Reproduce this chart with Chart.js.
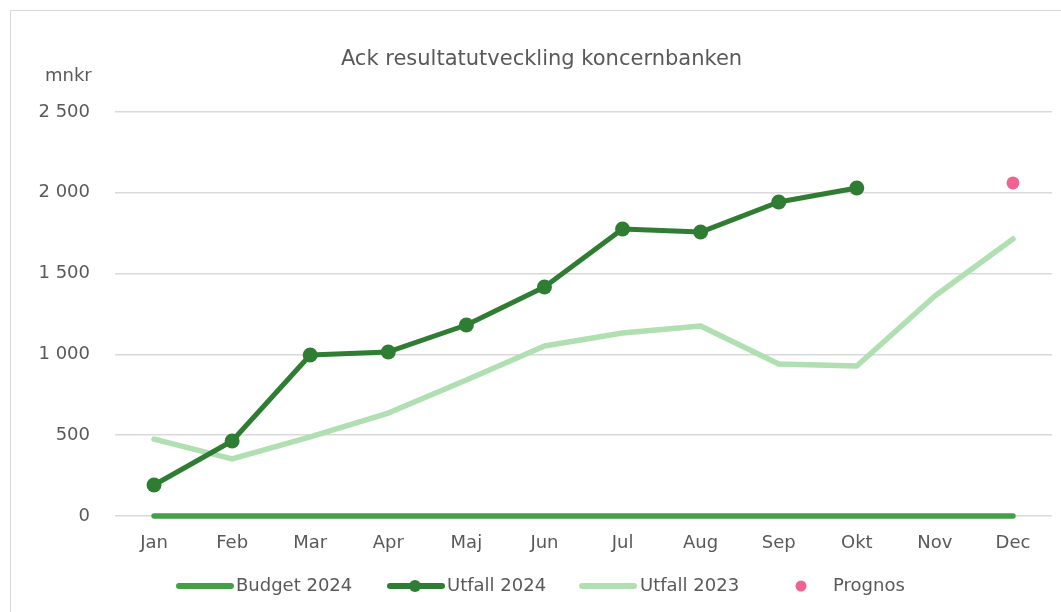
<!DOCTYPE html>
<html>
<head>
<meta charset="utf-8">
<script src="https://cdn.jsdelivr.net/npm/chart.js@4/dist/chart.umd.min.js"></script>
<style>
    html, body { margin: 0; padding: 0; background: #fff; overflow: hidden; }
    body { width: 1061px; height: 612px; position: relative; font-family: 'DejaVu Sans', sans-serif; color: #595959; }
    .frame { position: absolute; left: 10px; top: 10px; width: 1200px; height: 800px; border: 1.5px solid #d9d9d9; }
    .title { position: absolute; left: 0; width: 1083px; top: 46px; text-align: center; font-size: 21px; }
    .unit { position: absolute; left: 45px; top: 64px; font-size: 18px; }
    #chartWrap { position: absolute; left: 0; top: 0; width: 1061px; height: 612px; }
    .legend { position: absolute; top: 574px; font-size: 18px; white-space: nowrap; }
    .legend svg { position: absolute; top: 0; }
</style>
</head>
<body>
<div class="frame"></div>
<div id="chartWrap"><canvas id="chart"></canvas></div>
<div class="title">Ack resultatutveckling koncernbanken</div>
<div class="unit">mnkr</div>

<div class="legend" style="left:176px">
    <svg width="60" height="24" style="left:0"><line x1="3" y1="12" x2="55" y2="12" stroke="#43a047" stroke-width="6" stroke-linecap="round"/></svg>
    <span style="position:absolute;left:60px">Budget 2024</span>
</div>
<div class="legend" style="left:387px">
    <svg width="60" height="24" style="left:0"><line x1="3" y1="12" x2="55" y2="12" stroke="#2e7d32" stroke-width="6" stroke-linecap="round"/><circle cx="28" cy="12" r="6" fill="#2e7d32"/></svg>
    <span style="position:absolute;left:60px">Utfall 2024</span>
</div>
<div class="legend" style="left:579px">
    <svg width="60" height="24" style="left:0"><line x1="3" y1="12" x2="55" y2="12" stroke="#b0dfb1" stroke-width="6" stroke-linecap="round"/></svg>
    <span style="position:absolute;left:61px">Utfall 2023</span>
</div>
<div class="legend" style="left:790px">
    <svg width="24" height="24" style="left:0"><circle cx="11" cy="12" r="5.5" fill="#f06292"/></svg>
    <span style="position:absolute;left:43px">Prognos</span>
</div>

<script>
const months = ['Jan', 'Feb', 'Mar', 'Apr', 'Maj', 'Jun', 'Jul', 'Aug', 'Sep', 'Okt', 'Nov', 'Dec'];
const budget2024 = [0, 0, 0, 0, 0, 0, 0, 0, 0, 0, 0, 0];
const utfall2024 = [192, 464, 996, 1015, 1182, 1417, 1776, 1757, 1943, 2030, null, null];
const utfall2023 = [476, 353, 489, 637, 842, 1052, 1132, 1176, 941, 928, 1361, 1714];
const prognos = [null, null, null, null, null, null, null, null, null, null, null, 2061];

const yMin = 0;
const yMax = 2500;
const yStep = 500;

// chart area edges in page pixels
const areaLeft = 115, areaRight = 1052, areaTop = 112, areaBottom = 516;

function fmt(v) {
    return String(v).replace(/\B(?=(\d{3})+(?!\d))/g, ' ');
}

const ctx = document.getElementById('chart').getContext('2d');
new Chart(ctx, {
    type: 'line',
    data: {
        labels: months,
        datasets: [
            {
                label: 'Prognos',
                data: prognos,
                showLine: false,
                pointRadius: 6.5,
                pointBackgroundColor: '#f06292',
                pointBorderWidth: 0,
                order: 0
            },
            {
                label: 'Utfall 2024',
                data: utfall2024,
                borderColor: '#2e7d32',
                backgroundColor: '#2e7d32',
                borderWidth: 5,
                pointRadius: 7.5,
                pointBackgroundColor: '#2e7d32',
                pointBorderWidth: 0,
                borderCapStyle: 'round',
                borderJoinStyle: 'round',
                clip: false,
                order: 1
            },
            {
                label: 'Utfall 2023',
                data: utfall2023,
                borderColor: '#b0dfb1',
                borderWidth: 5.5,
                pointRadius: 0,
                borderCapStyle: 'round',
                borderJoinStyle: 'round',
                order: 2
            },
            {
                label: 'Budget 2024',
                data: budget2024,
                borderColor: '#43a047',
                borderWidth: 5.5,
                pointRadius: 0,
                borderCapStyle: 'round',
                clip: false,
                order: 3
            }
        ]
    },
    options: {
        responsive: true,
        maintainAspectRatio: false,
        animation: false,
        layout: { padding: { left: 0, right: 1061 - areaRight, top: areaTop, bottom: 0 } },
        plugins: { legend: { display: false }, title: { display: false }, tooltip: { enabled: false } },
        scales: {
            x: {
                offset: true,
                grid: { display: false },
                border: { display: false },
                ticks: { color: '#595959', font: { family: 'DejaVu Sans', size: 18 }, padding: 9, maxRotation: 0 },
                afterFit: function (scale) { scale.height = 612 - areaBottom; }
            },
            y: {
                min: yMin,
                max: yMax,
                grid: { color: '#d9d9d9', lineWidth: 1.5, drawTicks: false },
                border: { display: false },
                ticks: {
                    stepSize: yStep,
                    color: '#595959',
                    font: { family: 'DejaVu Sans', size: 18 },
                    padding: 25,
                    callback: function (v) { return fmt(v); }
                },
                afterFit: function (scale) { scale.width = areaLeft; }
            }
        }
    }
});
</script>
</body>
</html>
